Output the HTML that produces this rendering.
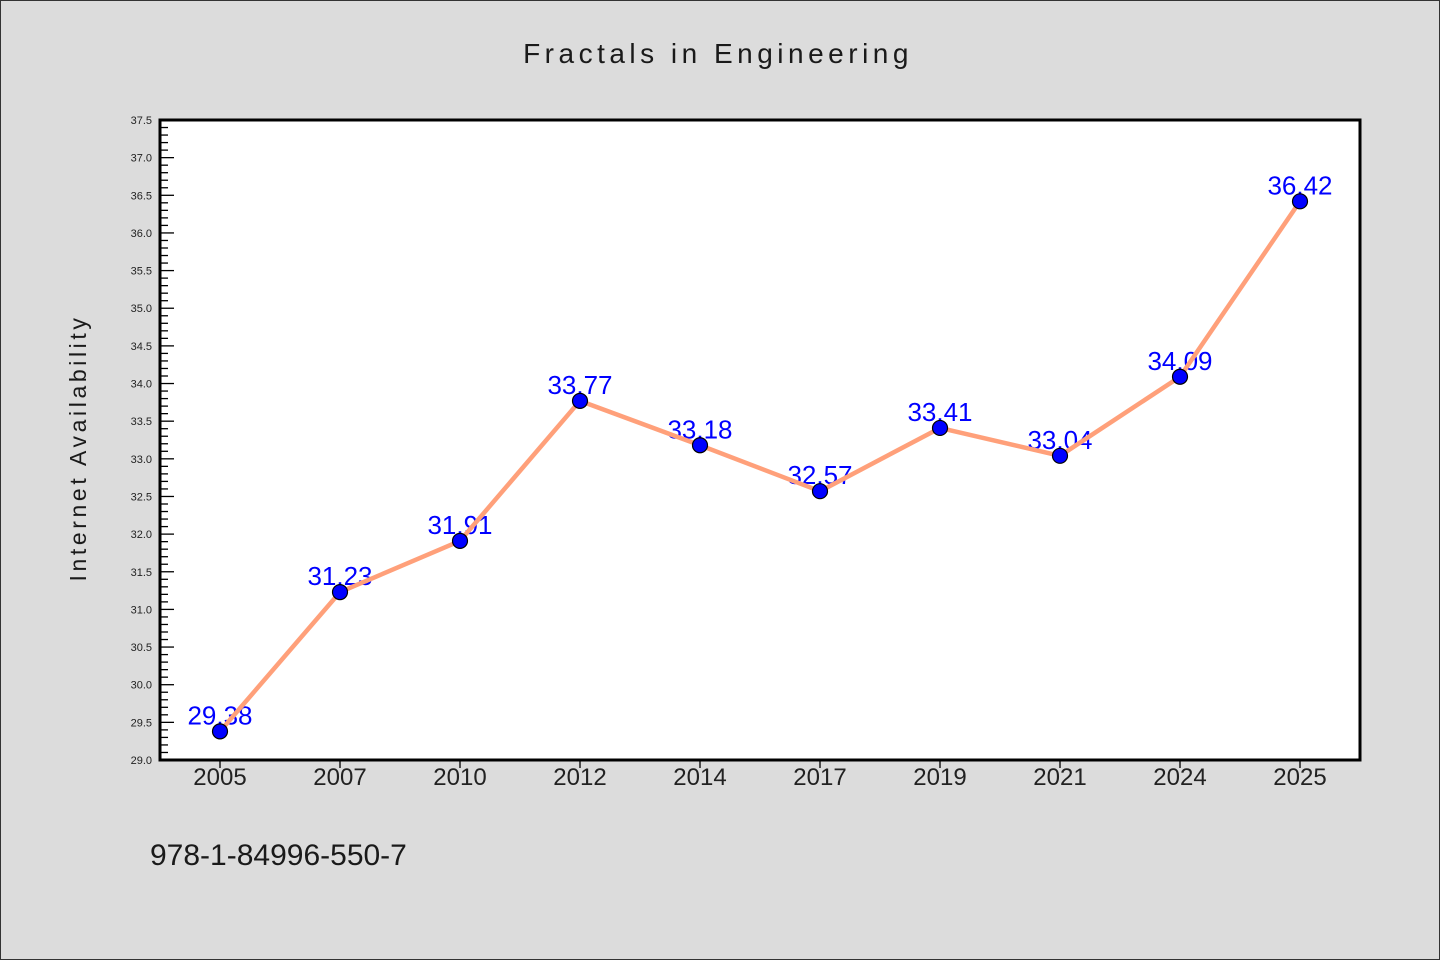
<!DOCTYPE html>
<html><head><meta charset="utf-8"><style>
html,body{margin:0;padding:0;background:#dcdcdc;}
svg{display:block;}
text{font-family:"Liberation Sans","DejaVu Sans",sans-serif;}
</style></head><body>
<svg id="chart" width="1440" height="960" viewBox="0 0 1440 960">
<rect x="0.5" y="0.5" width="1439" height="959" fill="#dcdcdc" stroke="#333" stroke-width="1"/>
<text x="718" y="63" text-anchor="middle" font-size="28" letter-spacing="4.5" fill="#1a1a1a">Fractals in Engineering</text>
<text transform="translate(86,448) rotate(-90)" text-anchor="middle" font-size="23" letter-spacing="3.6" fill="#1a1a1a">Internet Availability</text>
<rect x="160" y="120" width="1200" height="640" fill="#fff"/>
<g id="yticks"></g>
<g id="xticks"></g>
<g id="labels"></g>
<g id="series"></g>
<rect x="160" y="120" width="1200" height="640" fill="none" stroke="#000" stroke-width="3"/>
<text x="150" y="865" font-size="30" fill="#1a1a1a">978-1-84996-550-7</text>
</svg>
<script>
const categories=["2005","2007","2010","2012","2014","2017","2019","2021","2024","2025"];
const values=[29.38,31.23,31.91,33.77,33.18,32.57,33.41,33.04,34.09,36.42];
const yTicks=["29.0","29.5","30.0","30.5","31.0","31.5","32.0","32.5","33.0","33.5","34.0","34.5","35.0","35.5","36.0","36.5","37.0","37.5"];
const yMin=29.0,yMax=37.5;
const L=160,R=1360,T=120,B=760;
const NS="http://www.w3.org/2000/svg";
function yS(v){return B-(v-yMin)/(yMax-yMin)*(B-T);}
function xS(i){return L+(i+0.5)*(R-L)/categories.length;}
function mk(tag,attrs,parent){const e=document.createElementNS(NS,tag);for(const k in attrs)e.setAttribute(k,attrs[k]);parent.appendChild(e);return e;}
const yg=document.getElementById('yticks');
for(let v=Math.round(yMin*10);v<=Math.round(yMax*10);v++){
  const y=yS(v/10);const major=v%5===0;
  const t=mk('line',{x1:L,x2:L+(major?14:8),y1:y,y2:y,stroke:'#000','stroke-width':1.3},yg);
  
  
}
yTicks.forEach(s=>{
  const t=mk('text',{x:L-8,y:yS(parseFloat(s))+4,'text-anchor':'end','font-size':11,fill:'#222'},yg);
  t.textContent=s;
  
  
});
const xg=document.getElementById('xticks');
categories.forEach((c,i)=>{
  const x=xS(i);
  const tk=mk('line',{x1:x,x2:x,y1:B,y2:B+8,stroke:'#000','stroke-width':1.3},xg);
  
  
  const t=mk('text',{x:x,y:B+25,'text-anchor':'middle','font-size':24,fill:'#222'},xg);
  t.textContent=c;
  
  
});
const lg=document.getElementById('labels');
values.forEach((v,i)=>{
  const t=mk('text',{x:xS(i),y:yS(v)-7,'text-anchor':'middle','font-size':26,fill:'#0000ff'},lg);
  t.textContent=v.toFixed(2);
  
  
});
const sg=document.getElementById('series');
const pl=mk('polyline',{points:values.map((v,i)=>xS(i)+','+yS(v)).join(' '),fill:'none',stroke:'#ffa07a','stroke-width':4.5,'stroke-linejoin':'round'},sg);


values.forEach((v,i)=>{
  const c=mk('circle',{cx:xS(i),cy:yS(v),r:7.5,fill:'#0000ff',stroke:'#000','stroke-width':1.2},sg);
  
  
});
</script>
</body></html>
